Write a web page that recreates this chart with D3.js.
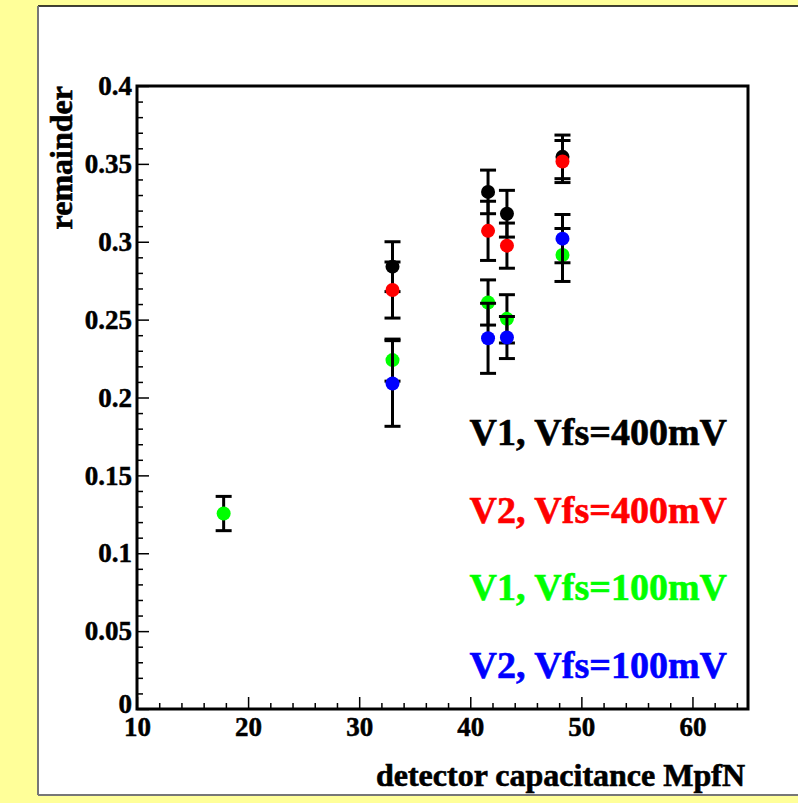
<!DOCTYPE html>
<html>
<head>
<meta charset="utf-8">
<script src="https://cdn.jsdelivr.net/npm/d3@7"></script>
<style>
  body { margin: 0; background: #ffff99; }
  svg text { font-family: "Liberation Serif", "Times New Roman", serif; font-weight: bold; }
</style>
</head>
<body>
<div id="chart"></div>
<script>
// values
const seriesNames = ["V1, Vfs=400mV", "V2, Vfs=400mV", "V1, Vfs=100mV", "V2, Vfs=100mV"];
const seriesColors = ["#000000", "#ff0000", "#00ff00", "#0000ff"];

const v1_400_x = [33, 41.6, 43.3, 48.3];
const v1_400_y = [0.284, 0.332, 0.318, 0.3545];
const v1_400_err = [0.016, 0.014, 0.015, 0.014];

const v2_400_x = [33, 41.6, 43.3, 48.3];
const v2_400_y = [0.269, 0.307, 0.2975, 0.3515];
const v2_400_err = [0.018, 0.019, 0.0145, 0.0135];

const v1_100_x = [17.8, 33, 41.6, 43.3, 48.3];
const v1_100_y = [0.1255, 0.224, 0.261, 0.2505, 0.2915];
const v1_100_err = [0.011, 0.0135, 0.0145, 0.0155, 0.017];

const v2_100_x = [33, 41.6, 43.3, 48.3];
const v2_100_y = [0.209, 0.238, 0.2385, 0.302];
const v2_100_err = [0.0275, 0.0225, 0.0135, 0.0155];

const xTicks = [10, 20, 30, 40, 50, 60];
const yTicks = [0, 0.05, 0.1, 0.15, 0.2, 0.25, 0.3, 0.35, 0.4];

document.addEventListener("DOMContentLoaded", function () {
  const W = 798, H = 803;
  const plot = { left: 137, right: 748, top: 86, bottom: 709 };

  const svg = d3.select("#chart").append("svg")
    .attr("width", W)
    .attr("height", H);

  // yellow canvas + white pad
  svg.append("rect").attr("width", W).attr("height", H).attr("fill", "#ffff99");
  svg.append("rect")
    .attr("x", 38).attr("y", 6)
    .attr("width", W - 38 + 5).attr("height", 795 - 6)
    .attr("fill", "white");
  svg.append("line").attr("x1", 38).attr("x2", W).attr("y1", 6).attr("y2", 6)
    .attr("stroke", "#000").attr("stroke-width", 1.5);
  svg.append("line").attr("x1", 38).attr("x2", 38).attr("y1", 6).attr("y2", 795)
    .attr("stroke", "#777").attr("stroke-width", 2);
  svg.append("line").attr("x1", 38).attr("x2", W).attr("y1", 795).attr("y2", 795)
    .attr("stroke", "#777").attr("stroke-width", 2);

  const x = d3.scaleLinear().domain([10, 65]).range([plot.left, plot.right]);
  const y = d3.scaleLinear().domain([0, 0.4]).range([plot.bottom, plot.top]);

  // minor ticks
  const xMinor = d3.range(12, 65, 2).filter(d => d % 10 !== 0);
  const yMinor = d3.range(1, 40).filter(d => d % 5 !== 0).map(d => d / 100);

  svg.append("g")
    .attr("transform", `translate(0,${plot.bottom})`)
    .call(d3.axisBottom(x).tickValues(xMinor).tickSize(-6).tickFormat(""))
    .call(g => g.select(".domain").remove())
    .selectAll("line").attr("stroke-width", 1.5);

  svg.append("g")
    .attr("transform", `translate(${plot.left},0)`)
    .call(d3.axisLeft(y).tickValues(yMinor).tickSize(-6).tickFormat(""))
    .call(g => g.select(".domain").remove())
    .selectAll("line").attr("stroke-width", 1.5);

  // major ticks + labels
  function styleLabels(sel) {
    sel.attr("font-size", "27px").attr("fill", "#000")
      .attr("stroke", "#000").attr("stroke-width", 0.5)
      .attr("font-family", "Liberation Serif, serif").attr("font-weight", "bold");
  }

  const xAxis = svg.append("g")
    .attr("transform", `translate(0,${plot.bottom})`)
    .call(d3.axisBottom(x).tickValues(xTicks).tickSize(-12).tickPadding(8).tickFormat(d => String(d)));
  xAxis.select(".domain").remove();
  xAxis.selectAll("line").attr("stroke-width", 1.5);
  xAxis.selectAll("text").call(styleLabels);

  const yAxis = svg.append("g")
    .attr("transform", `translate(${plot.left},0)`)
    .call(d3.axisLeft(y).tickValues(yTicks).tickSize(-12).tickPadding(5).tickFormat(d => String(d)));
  yAxis.select(".domain").remove();
  yAxis.selectAll("line").attr("stroke-width", 1.5);
  yAxis.selectAll("text").call(styleLabels);
  // ROOT puts the "0" a little higher so it clears the "10"
  yAxis.selectAll("text").filter(d => d === 0).attr("dy", "0.12em");

  // frame
  svg.append("rect")
    .attr("x", plot.left).attr("y", plot.top)
    .attr("width", plot.right - plot.left).attr("height", plot.bottom - plot.top)
    .attr("fill", "none").attr("stroke", "#000").attr("stroke-width", 3);

  // axis titles
  svg.append("text")
    .attr("transform", `translate(72,${plot.top}) rotate(-90)`)
    .attr("text-anchor", "end")
    .attr("font-size", "32px")
    .attr("stroke", "#000").attr("stroke-width", 0.6)
    .text("remainder");

  svg.append("text")
    .attr("x", 745).attr("y", 786)
    .attr("text-anchor", "end")
    .attr("font-size", "32px")
    .attr("stroke", "#000").attr("stroke-width", 0.6)
    .text("detector capacitance MpfN");

  // points with error bars
  const series = [
    { xs: v1_400_x, ys: v1_400_y, es: v1_400_err },
    { xs: v2_400_x, ys: v2_400_y, es: v2_400_err },
    { xs: v1_100_x, ys: v1_100_y, es: v1_100_err },
    { xs: v2_100_x, ys: v2_100_y, es: v2_100_err }
  ];
  const cap = 8;

  series.forEach((s, i) => {
    const pts = s.xs.map((xv, j) => ({ x: xv, y: s.ys[j], e: s.es[j] }));
    const g = svg.append("g");

    pts.forEach(p => {
      const cx = x(p.x);
      g.append("line")
        .attr("x1", cx).attr("x2", cx)
        .attr("y1", y(p.y - p.e)).attr("y2", y(p.y + p.e))
        .attr("stroke", "#000").attr("stroke-width", 3);
      [p.y - p.e, p.y + p.e].forEach(v => {
        g.append("line")
          .attr("x1", cx - cap).attr("x2", cx + cap)
          .attr("y1", y(v)).attr("y2", y(v))
          .attr("stroke", "#000").attr("stroke-width", 3);
      });
    });

    g.selectAll("circle")
      .data(pts)
      .enter().append("circle")
      .attr("cx", d => x(d.x))
      .attr("cy", d => y(d.y))
      .attr("r", 7)
      .attr("fill", seriesColors[i]);
  });

  // legend text
  seriesNames.forEach((name, i) => {
    svg.append("text")
      .attr("x", 727)
      .attr("y", 445 + i * 77.5)
      .attr("text-anchor", "end")
      .attr("font-size", "38px")
      .attr("fill", seriesColors[i])
      .attr("stroke", seriesColors[i]).attr("stroke-width", 0.6)
      .text(name);
  });
});
</script>
</body>
</html>
